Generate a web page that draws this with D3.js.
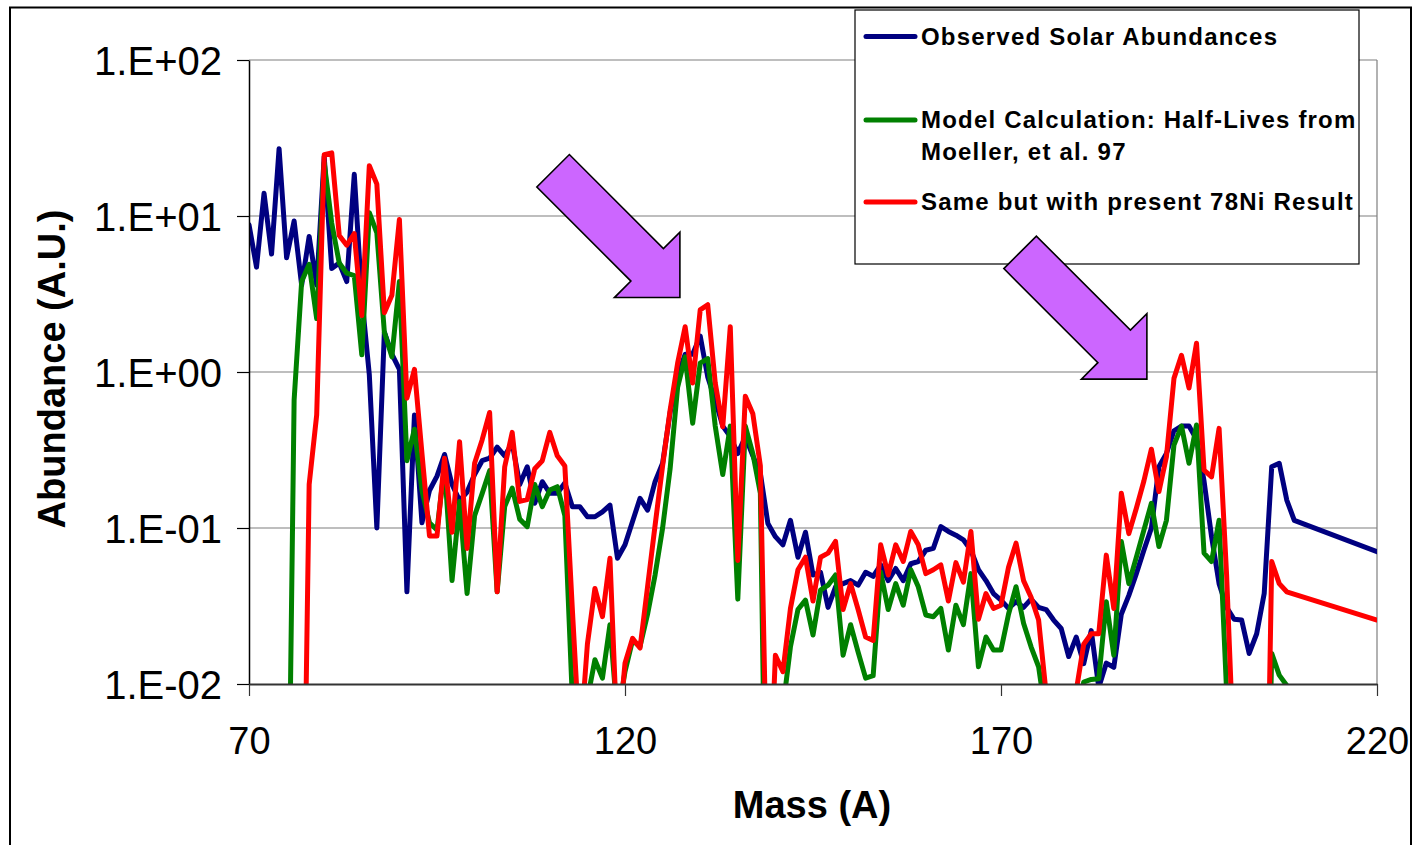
<!DOCTYPE html>
<html>
<head>
<meta charset="utf-8">
<script src="https://cdn.jsdelivr.net/npm/d3@7"></script>
<style>
  body { margin: 0; background: #fff; }
  svg { display: block; }
  text { font-family: "Liberation Sans", Arial, Helvetica, sans-serif; fill: #000; }
</style>
</head>
<body>
<svg id="chart" width="1414" height="845"></svg>
<script>
// Mass numbers A (x values); A = 220 closes the tail of the curves
const massNumbers = [
  70, 71, 72, 73, 74, 75, 76, 77, 78, 79,
  80, 81, 82, 83, 84, 85, 86, 87, 88, 89,
  90, 91, 92, 93, 94, 95, 96, 97, 98, 99,
  100, 101, 102, 103, 104, 105, 106, 107, 108, 109,
  110, 111, 112, 113, 114, 115, 116, 117, 118, 119,
  120, 121, 122, 123, 124, 125, 126, 127, 128, 129,
  130, 131, 132, 133, 134, 135, 136, 137, 138, 139,
  140, 141, 142, 143, 144, 145, 146, 147, 148, 149,
  150, 151, 152, 153, 154, 155, 156, 157, 158, 159,
  160, 161, 162, 163, 164, 165, 166, 167, 168, 169,
  170, 171, 172, 173, 174, 175, 176, 177, 178, 179,
  180, 181, 182, 183, 184, 185, 186, 187, 188, 189,
  190, 191, 192, 193, 194, 195, 196, 197, 198, 199,
  200, 201, 202, 203, 204, 205, 206, 207, 208, 209,
  220
];

// Observed solar r-process abundances
const observedSolar = [
  8.8, 4.7, 14, 5.7, 27, 5.4, 9.3, 3.6, 7.4, 3.6,
  24, 4.6, 5.0, 3.8, 18.5, 3.0, 0.96, 0.1, 1.8, 1.3,
  1.04, 0.039, 0.53, 0.108, 0.174, 0.215, 0.296, 0.19, 0.15, 0.17,
  0.22, 0.27, 0.28, 0.33, 0.29, 0.35, 0.19, 0.247, 0.144, 0.198,
  0.167, 0.167, 0.194, 0.137, 0.137, 0.118, 0.118, 0.127, 0.14, 0.064,
  0.078, 0.11, 0.155, 0.13, 0.198, 0.26, 0.55, 0.95, 1.3, 1.3,
  1.7, 0.93, 0.66, 0.45, 0.385, 0.30, 0.385, 0.29, 0.224, 0.107,
  0.088, 0.078, 0.112, 0.065, 0.094, 0.05, 0.052, 0.031, 0.042, 0.044,
  0.046, 0.043, 0.052, 0.049, 0.058, 0.046, 0.055, 0.046, 0.059, 0.061,
  0.072, 0.074, 0.102, 0.095, 0.09, 0.084, 0.072, 0.054, 0.046, 0.038,
  0.0345, 0.0305, 0.0337, 0.031, 0.035, 0.031, 0.030, 0.0257, 0.0227, 0.015,
  0.020, 0.0135, 0.022, 0.0095, 0.0136, 0.0128, 0.028, 0.037, 0.051, 0.072,
  0.10, 0.247, 0.30, 0.42, 0.45, 0.45, 0.37, 0.2, 0.088, 0.044,
  0.031, 0.026, 0.0257, 0.0157, 0.021, 0.038, 0.247, 0.26, 0.151, 0.112,
  0.0705
];

// Model calculation with half-lives from Moeller et al. 97
const modelMoeller = [
  null, null, null, null, null, 0.0001, 0.66, 3.8, 4.9, 2.2,
  22, 9, 5.0, 4.3, 4.15, 1.29, 10.5, 7.8, 1.8, 1.25,
  3.8, 0.27, 0.43, 0.174, 0.108, 0.097, 0.25, 0.046, 0.148, 0.038,
  0.12, 0.166, 0.233, 0.039, 0.137, 0.18, 0.114, 0.102, 0.19, 0.137,
  0.175, 0.184, 0.12, 0.008, 0.004, 0.008, 0.0143, 0.0109, 0.024, 0.006,
  0.012, 0.019, 0.0174, 0.028, 0.05, 0.1, 0.24, 0.8, 1.25, 0.47,
  1.14, 1.22, 0.45, 0.22, 0.45, 0.035, 0.45, 0.3, 0.167, 0.0001,
  0.0095, 0.007, 0.0173, 0.03, 0.0345, 0.0206, 0.04, 0.043, 0.05, 0.0153,
  0.024, 0.016, 0.0109, 0.0113, 0.052, 0.03, 0.044, 0.032, 0.054, 0.042,
  0.0277, 0.027, 0.0305, 0.0165, 0.032, 0.024, 0.051, 0.0129, 0.020, 0.0165,
  0.0165, 0.028, 0.042, 0.0245, 0.0173, 0.0129, 0.006, 0.0001, 0.0001, 0.0001,
  0.006, 0.0103, 0.0107, 0.0108, 0.0337, 0.0153, 0.082, 0.044, 0.065, 0.097,
  0.144, 0.076, 0.112, 0.34, 0.45, 0.26, 0.457, 0.069, 0.061, 0.112,
  0.009, 0.0001, 0.0001, 0.0001, 0.0001, 0.0001, 0.0157, 0.0114, 0.0098, 0.005,
  null
];

// Same model with the present 78Ni half-life
const modelNi78 = [
  null, null, null, null, null, null, null, 0.0001, 0.19, 0.53,
  24.7, 25.4, 7.5, 6.5, 7.7, 2.3, 21, 16, 2.4, 3.1,
  9.5, 0.68, 1.04, 0.3, 0.089, 0.089, 0.28, 0.094, 0.357, 0.074,
  0.26, 0.367, 0.55, 0.039, 0.246, 0.41, 0.148, 0.152, 0.24, 0.27,
  0.41, 0.29, 0.25, 0.03, 0.004, 0.018, 0.041, 0.027, 0.064, 0.004,
  0.0136, 0.0196, 0.017, 0.042, 0.104, 0.25, 0.57, 1.14, 1.95, 0.85,
  2.5, 2.7, 0.85, 0.446, 1.95, 0.062, 0.70, 0.54, 0.25, 0.001,
  0.0153, 0.012, 0.0305, 0.054, 0.065, 0.034, 0.065, 0.069, 0.082, 0.03,
  0.044, 0.03, 0.020, 0.019, 0.078, 0.05, 0.078, 0.061, 0.095, 0.078,
  0.051, 0.054, 0.058, 0.034, 0.06, 0.045, 0.095, 0.026, 0.038, 0.0305,
  0.032, 0.056, 0.08, 0.046, 0.036, 0.0257, 0.0087, 0.0001, 0.0001, 0.0001,
  0.009, 0.018, 0.021, 0.021, 0.067, 0.0305, 0.167, 0.092, 0.134, 0.2,
  0.32, 0.171, 0.286, 0.91, 1.28, 0.79, 1.53, 0.235, 0.213, 0.435,
  0.05, 0.003, 0.0001, 0.0001, 0.0001, 0.0001, 0.061, 0.044, 0.039, null,
  0.0257
];

const seriesNames = [
  "Observed Solar Abundances",
  "Model Calculation: Half-Lives from|Moeller, et al. 97",
  "Same but with present 78Ni Result"
];
const seriesColors = ["#000080", "#008000", "#ff0000"];
const seriesValues = [observedSolar, modelMoeller, modelNi78];

const xTicks = [70, 120, 170, 220];
const yTicks = [0.01, 0.1, 1, 10, 100];

// Arrow annotations: tip position in data units
const arrowTips = [
  { mass: 127.3, value: 3.0 },
  { mass: 189.4, value: 0.9 }
];

const svg = d3.select("#chart");
const plot = { left: 249, right: 1377, top: 60, bottom: 684 };

const x = d3.scaleLinear().domain([70, 220]).range([plot.left, plot.right]);
const y = d3.scaleLog().domain([0.01, 100]).range([plot.bottom, plot.top]);

// Outer chart frame
svg.append("rect")
  .attr("x", 10).attr("y", 7.5).attr("width", 1401).attr("height", 860)
  .attr("fill", "#fff").attr("stroke", "#000").attr("stroke-width", 2);

// Horizontal gridlines at each decade
svg.append("g")
  .selectAll("line")
  .data(yTicks.filter(v => v > 0.01))
  .join("line")
  .attr("x1", plot.left).attr("x2", plot.right)
  .attr("y1", d => y(d)).attr("y2", d => y(d))
  .attr("stroke", "#7f7f7f").attr("stroke-width", 1.2);

// Right edge of the plot area
svg.append("line")
  .attr("x1", plot.right).attr("x2", plot.right)
  .attr("y1", plot.top).attr("y2", plot.bottom)
  .attr("stroke", "#7f7f7f").attr("stroke-width", 1.2);

svg.append("clipPath").attr("id", "plot-clip")
  .append("rect")
  .attr("x", plot.left).attr("y", plot.top - 20)
  .attr("width", plot.right - plot.left).attr("height", plot.bottom - plot.top + 20);

const line = d3.line()
  .x(d => x(d.m))
  .y(d => y(d.v));

// Missing masses are skipped so each curve stays continuous
const lineGroup = svg.append("g").attr("clip-path", "url(#plot-clip)");
seriesValues.forEach((vals, i) => {
  const pts = massNumbers.map((m, k) => ({ m, v: vals[k] })).filter(d => d.v != null);
  lineGroup.append("path")
    .datum(pts)
    .attr("d", line)
    .attr("fill", "none")
    .attr("stroke", seriesColors[i])
    .attr("stroke-width", 5)
    .attr("stroke-linejoin", "round")
    .attr("stroke-linecap", "round");
});

// Axes
const fmtE = v => {
  const e = Math.round(Math.log10(v));
  return "1.E" + (e < 0 ? "-" : "+") + String(Math.abs(e)).padStart(2, "0");
};

const yAxis = svg.append("g")
  .attr("transform", `translate(${plot.left},0)`)
  .call(d3.axisLeft(y).tickValues(yTicks).tickFormat(fmtE).tickSize(12).tickPadding(15).tickSizeOuter(0));
yAxis.select(".domain").attr("stroke", "#000").attr("stroke-width", 1.5);
yAxis.selectAll(".tick line").attr("stroke", "#000").attr("stroke-width", 1.2);
yAxis.selectAll(".tick text")
  .attr("font-size", 40).attr("font-family", "Liberation Sans, Arial, sans-serif")
  .attr("dy", "0.36em");

const xAxis = svg.append("g")
  .attr("transform", `translate(0,${plot.bottom})`)
  .call(d3.axisBottom(x).tickValues(xTicks).tickFormat(d3.format("d")).tickSize(12).tickPadding(31).tickSizeOuter(0));
xAxis.select(".domain").attr("stroke", "#333").attr("stroke-width", 2);
xAxis.selectAll(".tick line").attr("stroke", "#333").attr("stroke-width", 1.2);
xAxis.selectAll(".tick text")
  .attr("font-size", 38).attr("font-family", "Liberation Sans, Arial, sans-serif");

// Axis titles
svg.append("text")
  .attr("transform", "translate(65,369) rotate(-90)")
  .attr("text-anchor", "middle")
  .attr("font-size", 38).attr("font-weight", "bold")
  .text("Abundance (A.U.)");

svg.append("text")
  .attr("x", 812).attr("y", 818)
  .attr("text-anchor", "middle")
  .attr("font-size", 38).attr("font-weight", "bold")
  .text("Mass (A)");

// Legend
const legend = svg.append("g");
legend.append("rect")
  .attr("x", 855).attr("y", 10).attr("width", 504).attr("height", 254)
  .attr("fill", "#fff").attr("stroke", "#000").attr("stroke-width", 1.2);

const legendRows = [
  { lineY: 36.5, baselines: [45] },
  { lineY: 120, baselines: [128, 160] },
  { lineY: 202, baselines: [210] }
];
legendRows.forEach((row, i) => {
  legend.append("line")
    .attr("x1", 866).attr("x2", 915)
    .attr("y1", row.lineY).attr("y2", row.lineY)
    .attr("stroke", seriesColors[i]).attr("stroke-width", 5)
    .attr("stroke-linecap", "round");
  const parts = seriesNames[i].split("|");
  parts.forEach((txt, j) => {
    legend.append("text")
      .attr("x", 921).attr("y", row.baselines[j])
      .attr("font-size", 24).attr("font-weight", "bold")
      .attr("letter-spacing", "1.2px")
      .text(txt);
  });
});

// Block arrows pointing at the abundance peaks
const headLen = 46.3, headHalf = 46.3, shaftHalf = 23, shaftLen = 133;
const arrowShape = [
  [0, 0], [-headLen, -headHalf], [-headLen, -shaftHalf], [-headLen - shaftLen, -shaftHalf],
  [-headLen - shaftLen, shaftHalf], [-headLen, shaftHalf], [-headLen, headHalf]
];
svg.append("g")
  .selectAll("path")
  .data(arrowTips)
  .join("path")
  .attr("transform", d => `translate(${x(d.mass)},${y(d.value)}) rotate(45)`)
  .attr("d", "M" + arrowShape.map(p => p.join(",")).join("L") + "Z")
  .attr("fill", "#cc66ff")
  .attr("stroke", "#000").attr("stroke-width", 1.6)
  .attr("stroke-linejoin", "miter");
</script>
</body>
</html>
